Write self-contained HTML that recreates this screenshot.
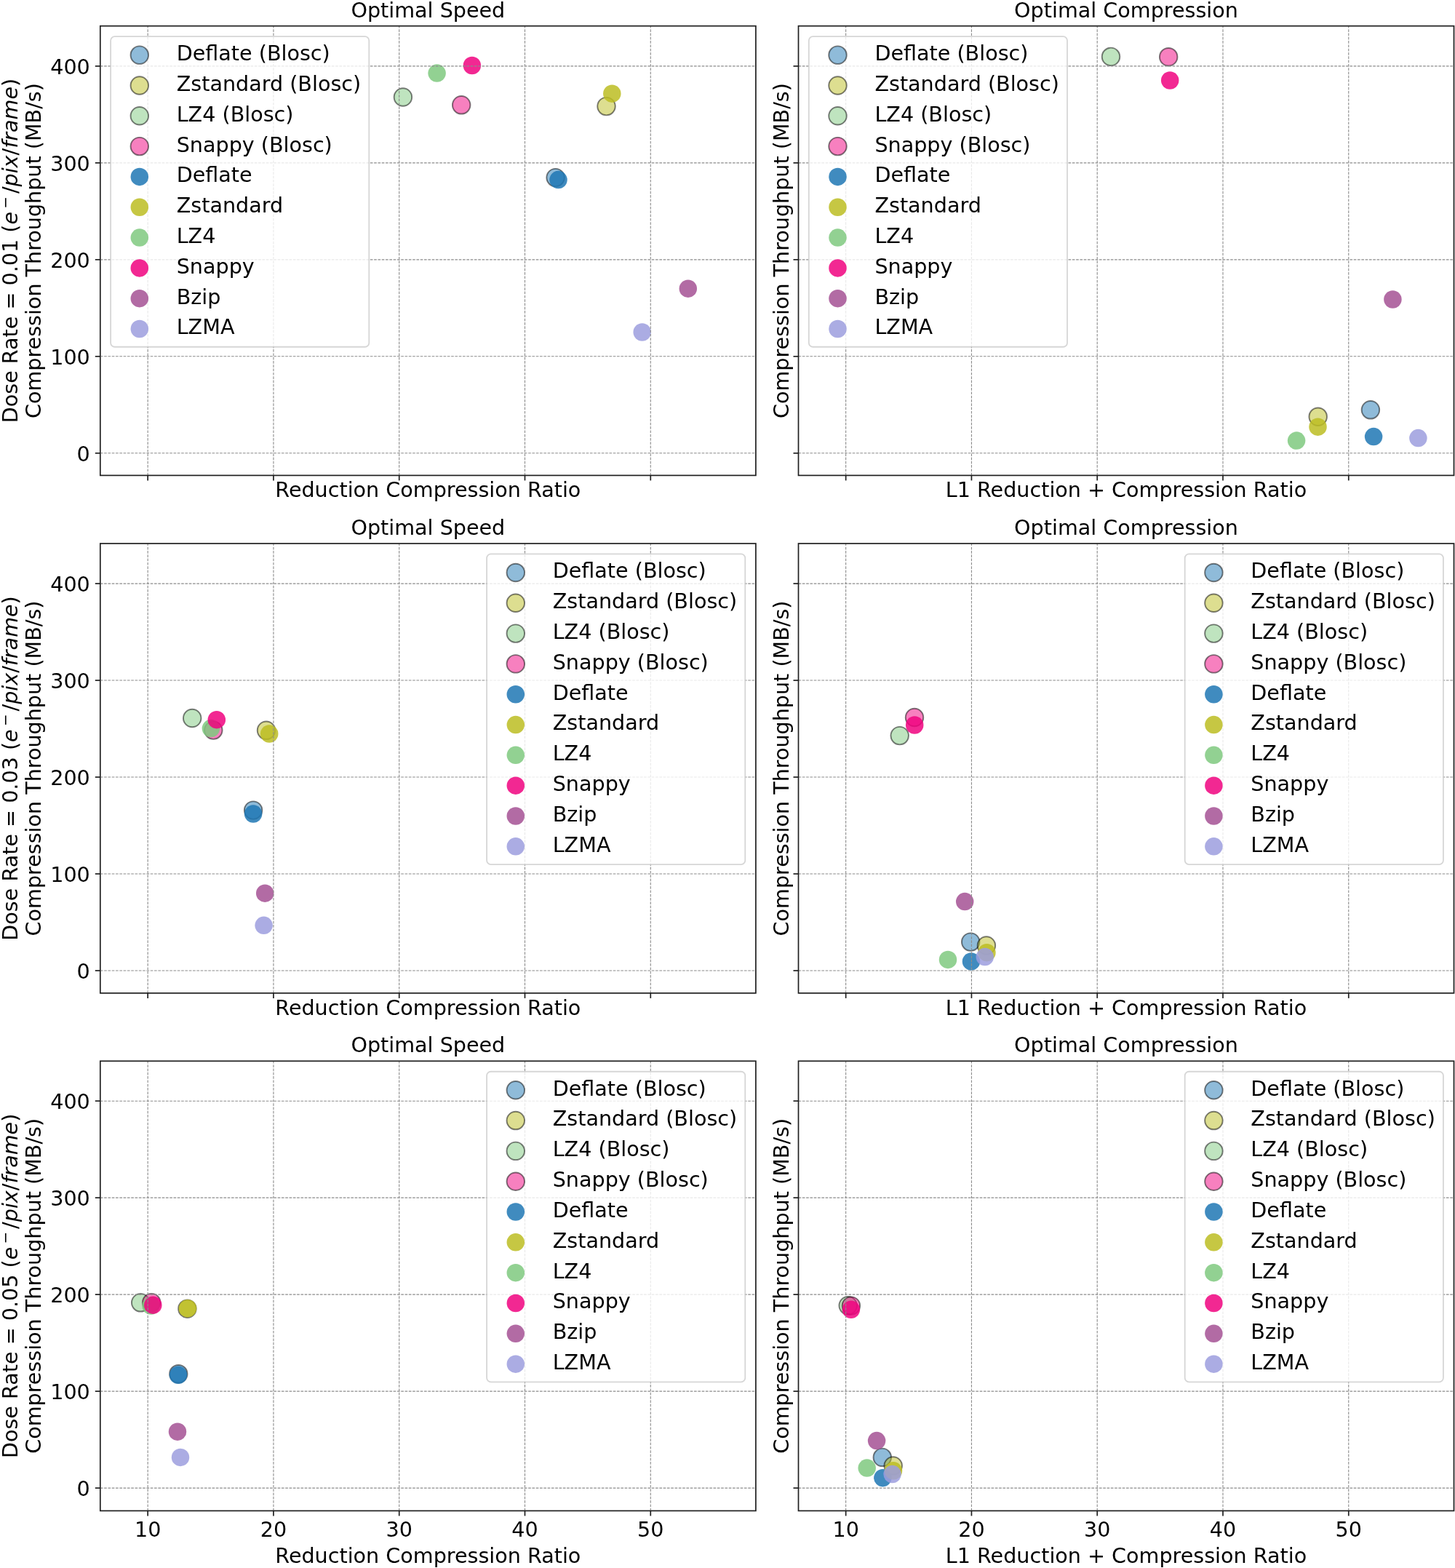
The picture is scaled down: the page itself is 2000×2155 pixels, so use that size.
<!DOCTYPE html>
<html lang="en"><head><meta charset="utf-8"><title>Compression throughput vs. compression ratio</title>
<style>
html,body{margin:0;padding:0;background:#fff;}
body{width:2000px;height:2155px;overflow:hidden;}
svg{display:block;}
text{font-family:"DejaVu Sans","Liberation Sans",sans-serif;font-size:28.6px;fill:#000;letter-spacing:0px;}
.it{font-style:italic;}
.g{stroke:#8c8c8c;stroke-width:1.1;stroke-dasharray:3.7 1.6;fill:none;}
.t{stroke:#202020;stroke-width:1.7;fill:none;}
.sp{stroke:#202020;stroke-width:1.7;fill:none;stroke-linejoin:miter;}
.b{stroke:#000;stroke-opacity:0.5;stroke-width:1.9;fill-opacity:0.5;}
.p{fill-opacity:0.85;}
.lf{fill:#fff;fill-opacity:0.8;stroke:#ccc;stroke-opacity:0.8;stroke-width:1.8;}
</style></head><body>
<svg role="img" aria-label="Compression throughput versus compression ratio scatter plots" width="2000" height="2155" viewBox="0 0 2000 2155">
<rect x="0" y="0" width="2000" height="2155" fill="#fff"/>
<g>
<circle class="b" cx="763.6" cy="244.1" r="12.25" fill="#1f77b4"/>
<circle class="b" cx="833.5" cy="146.1" r="12.25" fill="#bcbd22"/>
<circle class="b" cx="553.9" cy="133.5" r="12.25" fill="#7fc97f"/>
<circle class="b" cx="634.2" cy="144.3" r="12.25" fill="#f0027f"/>
<circle class="p" cx="767.5" cy="247.1" r="12.25" fill="#1f77b4"/>
<circle class="p" cx="841.3" cy="128.7" r="12.25" fill="#bcbd22"/>
<circle class="p" cx="600.6" cy="100.6" r="12.25" fill="#7fc97f"/>
<circle class="p" cx="648.9" cy="90" r="12.25" fill="#f0027f"/>
<circle class="p" cx="945.8" cy="396.7" r="12.25" fill="#a55194"/>
<circle class="p" cx="882.7" cy="456.5" r="12.25" fill="#9c9ede"/>
<line class="g" x1="203.15" y1="653.4" x2="203.15" y2="35.7"/>
<line class="g" x1="375.93" y1="653.4" x2="375.93" y2="35.7"/>
<line class="g" x1="548.71" y1="653.4" x2="548.71" y2="35.7"/>
<line class="g" x1="721.49" y1="653.4" x2="721.49" y2="35.7"/>
<line class="g" x1="894.27" y1="653.4" x2="894.27" y2="35.7"/>
<line class="g" x1="137.8" y1="622.8" x2="1038.9" y2="622.8"/>
<line class="g" x1="137.8" y1="489.82" x2="1038.9" y2="489.82"/>
<line class="g" x1="137.8" y1="356.84" x2="1038.9" y2="356.84"/>
<line class="g" x1="137.8" y1="223.86" x2="1038.9" y2="223.86"/>
<line class="g" x1="137.8" y1="90.88" x2="1038.9" y2="90.88"/>
<line class="t" x1="203.15" y1="653.4" x2="203.15" y2="660.4"/>
<line class="t" x1="375.93" y1="653.4" x2="375.93" y2="660.4"/>
<line class="t" x1="548.71" y1="653.4" x2="548.71" y2="660.4"/>
<line class="t" x1="721.49" y1="653.4" x2="721.49" y2="660.4"/>
<line class="t" x1="894.27" y1="653.4" x2="894.27" y2="660.4"/>
<line class="t" x1="130.8" y1="622.8" x2="137.8" y2="622.8"/>
<line class="t" x1="130.8" y1="489.82" x2="137.8" y2="489.82"/>
<line class="t" x1="130.8" y1="356.84" x2="137.8" y2="356.84"/>
<line class="t" x1="130.8" y1="223.86" x2="137.8" y2="223.86"/>
<line class="t" x1="130.8" y1="90.88" x2="137.8" y2="90.88"/>
<rect class="sp" x="137.8" y="35.7" width="901.1" height="617.7"/>
<text x="123.8" y="633.8" text-anchor="end" >0</text>
<text x="123.8" y="500.82" text-anchor="end" >100</text>
<text x="123.8" y="367.84" text-anchor="end" >200</text>
<text x="123.8" y="234.86" text-anchor="end" >300</text>
<text x="123.8" y="101.88" text-anchor="end" >400</text>
<text x="588.35" y="23.5" text-anchor="middle">Optimal Speed</text>
<text x="588.35" y="683.4" text-anchor="middle">Reduction Compression Ratio</text>
<text transform="translate(23.9 344.55) rotate(-90)" text-anchor="middle">Dose Rate = 0.01 (<tspan class="it">e</tspan><tspan class="it" dx="4.3" dy="-10.2" font-size="20">−</tspan><tspan dx="3.8" dy="10.2">/</tspan><tspan class="it">pix</tspan>/<tspan class="it">frame</tspan>)</text>
<text transform="translate(55.8 344.55) rotate(-90)" text-anchor="middle">Compression Throughput (MB/s)</text>
<rect class="lf" x="152.1" y="50.15" width="355.2" height="426.6" rx="5.6" ry="5.6"/>
<circle class="b" cx="191.8" cy="75.65" r="12.25" fill="#1f77b4"/>
<text x="242.7" y="83.05">Deflate (Blosc)</text>
<circle class="b" cx="191.8" cy="117.47" r="12.25" fill="#bcbd22"/>
<text x="242.7" y="124.87">Zstandard (Blosc)</text>
<circle class="b" cx="191.8" cy="159.29" r="12.25" fill="#7fc97f"/>
<text x="242.7" y="166.69">LZ4 (Blosc)</text>
<circle class="b" cx="191.8" cy="201.11" r="12.25" fill="#f0027f"/>
<text x="242.7" y="208.51">Snappy (Blosc)</text>
<circle class="p" cx="191.8" cy="242.93" r="12.25" fill="#1f77b4"/>
<text x="242.7" y="250.33">Deflate</text>
<circle class="p" cx="191.8" cy="284.75" r="12.25" fill="#bcbd22"/>
<text x="242.7" y="292.15">Zstandard</text>
<circle class="p" cx="191.8" cy="326.57" r="12.25" fill="#7fc97f"/>
<text x="242.7" y="333.97">LZ4</text>
<circle class="p" cx="191.8" cy="368.39" r="12.25" fill="#f0027f"/>
<text x="242.7" y="375.79">Snappy</text>
<circle class="p" cx="191.8" cy="410.21" r="12.25" fill="#a55194"/>
<text x="242.7" y="417.61">Bzip</text>
<circle class="p" cx="191.8" cy="452.03" r="12.25" fill="#9c9ede"/>
<text x="242.7" y="459.43">LZMA</text>
</g>
<g>
<circle class="b" cx="1883.9" cy="563.3" r="12.25" fill="#1f77b4"/>
<circle class="b" cx="1811.7" cy="572.7" r="12.25" fill="#bcbd22"/>
<circle class="b" cx="1527" cy="77.9" r="12.25" fill="#7fc97f"/>
<circle class="b" cx="1606.2" cy="78.2" r="12.25" fill="#f0027f"/>
<circle class="p" cx="1888.1" cy="600.1" r="12.25" fill="#1f77b4"/>
<circle class="p" cx="1811.5" cy="586.7" r="12.25" fill="#bcbd22"/>
<circle class="p" cx="1782.1" cy="605.6" r="12.25" fill="#7fc97f"/>
<circle class="p" cx="1608.2" cy="110.5" r="12.25" fill="#f0027f"/>
<circle class="p" cx="1914.4" cy="411.5" r="12.25" fill="#a55194"/>
<circle class="p" cx="1949.4" cy="602.1" r="12.25" fill="#9c9ede"/>
<line class="g" x1="1162.65" y1="653.4" x2="1162.65" y2="35.7"/>
<line class="g" x1="1335.43" y1="653.4" x2="1335.43" y2="35.7"/>
<line class="g" x1="1508.21" y1="653.4" x2="1508.21" y2="35.7"/>
<line class="g" x1="1680.99" y1="653.4" x2="1680.99" y2="35.7"/>
<line class="g" x1="1853.77" y1="653.4" x2="1853.77" y2="35.7"/>
<line class="g" x1="1097.5" y1="622.8" x2="1998.5" y2="622.8"/>
<line class="g" x1="1097.5" y1="489.82" x2="1998.5" y2="489.82"/>
<line class="g" x1="1097.5" y1="356.84" x2="1998.5" y2="356.84"/>
<line class="g" x1="1097.5" y1="223.86" x2="1998.5" y2="223.86"/>
<line class="g" x1="1097.5" y1="90.88" x2="1998.5" y2="90.88"/>
<line class="t" x1="1162.65" y1="653.4" x2="1162.65" y2="660.4"/>
<line class="t" x1="1335.43" y1="653.4" x2="1335.43" y2="660.4"/>
<line class="t" x1="1508.21" y1="653.4" x2="1508.21" y2="660.4"/>
<line class="t" x1="1680.99" y1="653.4" x2="1680.99" y2="660.4"/>
<line class="t" x1="1853.77" y1="653.4" x2="1853.77" y2="660.4"/>
<line class="t" x1="1090.5" y1="622.8" x2="1097.5" y2="622.8"/>
<line class="t" x1="1090.5" y1="489.82" x2="1097.5" y2="489.82"/>
<line class="t" x1="1090.5" y1="356.84" x2="1097.5" y2="356.84"/>
<line class="t" x1="1090.5" y1="223.86" x2="1097.5" y2="223.86"/>
<line class="t" x1="1090.5" y1="90.88" x2="1097.5" y2="90.88"/>
<rect class="sp" x="1097.5" y="35.7" width="901" height="617.7"/>
<text x="1548" y="23.5" text-anchor="middle">Optimal Compression</text>
<text x="1548" y="683.4" text-anchor="middle">L1 Reduction + Compression Ratio</text>
<text transform="translate(1083.8 344.55) rotate(-90)" text-anchor="middle">Compression Throughput (MB/s)</text>
<rect class="lf" x="1111.8" y="50.15" width="355.2" height="426.6" rx="5.6" ry="5.6"/>
<circle class="b" cx="1151.5" cy="75.65" r="12.25" fill="#1f77b4"/>
<text x="1202.4" y="83.05">Deflate (Blosc)</text>
<circle class="b" cx="1151.5" cy="117.47" r="12.25" fill="#bcbd22"/>
<text x="1202.4" y="124.87">Zstandard (Blosc)</text>
<circle class="b" cx="1151.5" cy="159.29" r="12.25" fill="#7fc97f"/>
<text x="1202.4" y="166.69">LZ4 (Blosc)</text>
<circle class="b" cx="1151.5" cy="201.11" r="12.25" fill="#f0027f"/>
<text x="1202.4" y="208.51">Snappy (Blosc)</text>
<circle class="p" cx="1151.5" cy="242.93" r="12.25" fill="#1f77b4"/>
<text x="1202.4" y="250.33">Deflate</text>
<circle class="p" cx="1151.5" cy="284.75" r="12.25" fill="#bcbd22"/>
<text x="1202.4" y="292.15">Zstandard</text>
<circle class="p" cx="1151.5" cy="326.57" r="12.25" fill="#7fc97f"/>
<text x="1202.4" y="333.97">LZ4</text>
<circle class="p" cx="1151.5" cy="368.39" r="12.25" fill="#f0027f"/>
<text x="1202.4" y="375.79">Snappy</text>
<circle class="p" cx="1151.5" cy="410.21" r="12.25" fill="#a55194"/>
<text x="1202.4" y="417.61">Bzip</text>
<circle class="p" cx="1151.5" cy="452.03" r="12.25" fill="#9c9ede"/>
<text x="1202.4" y="459.43">LZMA</text>
</g>
<g>
<circle class="b" cx="348.1" cy="1113.6" r="12.25" fill="#1f77b4"/>
<circle class="b" cx="366" cy="1003.8" r="12.25" fill="#bcbd22"/>
<circle class="b" cx="264.2" cy="987" r="12.25" fill="#7fc97f"/>
<circle class="b" cx="293.3" cy="1003.6" r="12.25" fill="#f0027f"/>
<circle class="p" cx="348.1" cy="1118.5" r="12.25" fill="#1f77b4"/>
<circle class="p" cx="370.2" cy="1008.5" r="12.25" fill="#bcbd22"/>
<circle class="p" cx="289.9" cy="1001.1" r="12.25" fill="#7fc97f"/>
<circle class="p" cx="297.8" cy="989.2" r="12.25" fill="#f0027f"/>
<circle class="p" cx="364.2" cy="1227.7" r="12.25" fill="#a55194"/>
<circle class="p" cx="362.6" cy="1271.8" r="12.25" fill="#9c9ede"/>
<line class="g" x1="203.15" y1="1364.9" x2="203.15" y2="747"/>
<line class="g" x1="375.93" y1="1364.9" x2="375.93" y2="747"/>
<line class="g" x1="548.71" y1="1364.9" x2="548.71" y2="747"/>
<line class="g" x1="721.49" y1="1364.9" x2="721.49" y2="747"/>
<line class="g" x1="894.27" y1="1364.9" x2="894.27" y2="747"/>
<line class="g" x1="137.8" y1="1334" x2="1038.9" y2="1334"/>
<line class="g" x1="137.8" y1="1201.02" x2="1038.9" y2="1201.02"/>
<line class="g" x1="137.8" y1="1068.04" x2="1038.9" y2="1068.04"/>
<line class="g" x1="137.8" y1="935.06" x2="1038.9" y2="935.06"/>
<line class="g" x1="137.8" y1="802.08" x2="1038.9" y2="802.08"/>
<line class="t" x1="203.15" y1="1364.9" x2="203.15" y2="1371.9"/>
<line class="t" x1="375.93" y1="1364.9" x2="375.93" y2="1371.9"/>
<line class="t" x1="548.71" y1="1364.9" x2="548.71" y2="1371.9"/>
<line class="t" x1="721.49" y1="1364.9" x2="721.49" y2="1371.9"/>
<line class="t" x1="894.27" y1="1364.9" x2="894.27" y2="1371.9"/>
<line class="t" x1="130.8" y1="1334" x2="137.8" y2="1334"/>
<line class="t" x1="130.8" y1="1201.02" x2="137.8" y2="1201.02"/>
<line class="t" x1="130.8" y1="1068.04" x2="137.8" y2="1068.04"/>
<line class="t" x1="130.8" y1="935.06" x2="137.8" y2="935.06"/>
<line class="t" x1="130.8" y1="802.08" x2="137.8" y2="802.08"/>
<rect class="sp" x="137.8" y="747" width="901.1" height="617.9"/>
<text x="123.8" y="1345" text-anchor="end" >0</text>
<text x="123.8" y="1212.02" text-anchor="end" >100</text>
<text x="123.8" y="1079.04" text-anchor="end" >200</text>
<text x="123.8" y="946.06" text-anchor="end" >300</text>
<text x="123.8" y="813.08" text-anchor="end" >400</text>
<text x="588.35" y="734.8" text-anchor="middle">Optimal Speed</text>
<text x="588.35" y="1394.9" text-anchor="middle">Reduction Compression Ratio</text>
<text transform="translate(23.9 1055.95) rotate(-90)" text-anchor="middle">Dose Rate = 0.03 (<tspan class="it">e</tspan><tspan class="it" dx="4.3" dy="-10.2" font-size="20">−</tspan><tspan dx="3.8" dy="10.2">/</tspan><tspan class="it">pix</tspan>/<tspan class="it">frame</tspan>)</text>
<text transform="translate(55.8 1055.95) rotate(-90)" text-anchor="middle">Compression Throughput (MB/s)</text>
<rect class="lf" x="669.1" y="761.45" width="355.2" height="426.6" rx="5.6" ry="5.6"/>
<circle class="b" cx="708.8" cy="786.95" r="12.25" fill="#1f77b4"/>
<text x="759.7" y="794.35">Deflate (Blosc)</text>
<circle class="b" cx="708.8" cy="828.77" r="12.25" fill="#bcbd22"/>
<text x="759.7" y="836.17">Zstandard (Blosc)</text>
<circle class="b" cx="708.8" cy="870.59" r="12.25" fill="#7fc97f"/>
<text x="759.7" y="877.99">LZ4 (Blosc)</text>
<circle class="b" cx="708.8" cy="912.41" r="12.25" fill="#f0027f"/>
<text x="759.7" y="919.81">Snappy (Blosc)</text>
<circle class="p" cx="708.8" cy="954.23" r="12.25" fill="#1f77b4"/>
<text x="759.7" y="961.63">Deflate</text>
<circle class="p" cx="708.8" cy="996.05" r="12.25" fill="#bcbd22"/>
<text x="759.7" y="1003.45">Zstandard</text>
<circle class="p" cx="708.8" cy="1037.87" r="12.25" fill="#7fc97f"/>
<text x="759.7" y="1045.27">LZ4</text>
<circle class="p" cx="708.8" cy="1079.69" r="12.25" fill="#f0027f"/>
<text x="759.7" y="1087.09">Snappy</text>
<circle class="p" cx="708.8" cy="1121.51" r="12.25" fill="#a55194"/>
<text x="759.7" y="1128.91">Bzip</text>
<circle class="p" cx="708.8" cy="1163.33" r="12.25" fill="#9c9ede"/>
<text x="759.7" y="1170.73">LZMA</text>
</g>
<g>
<circle class="b" cx="1334.2" cy="1294.6" r="12.25" fill="#1f77b4"/>
<circle class="b" cx="1355.9" cy="1299.5" r="12.25" fill="#bcbd22"/>
<circle class="b" cx="1236.7" cy="1011.1" r="12.25" fill="#7fc97f"/>
<circle class="b" cx="1257" cy="986" r="12.25" fill="#f0027f"/>
<circle class="p" cx="1335" cy="1321.4" r="12.25" fill="#1f77b4"/>
<circle class="p" cx="1356.4" cy="1309.2" r="12.25" fill="#bcbd22"/>
<circle class="p" cx="1303" cy="1318.9" r="12.25" fill="#7fc97f"/>
<circle class="p" cx="1257.2" cy="996.5" r="12.25" fill="#f0027f"/>
<circle class="p" cx="1326.2" cy="1239.1" r="12.25" fill="#a55194"/>
<circle class="p" cx="1353.8" cy="1315.1" r="12.25" fill="#9c9ede"/>
<line class="g" x1="1162.65" y1="1364.9" x2="1162.65" y2="747"/>
<line class="g" x1="1335.43" y1="1364.9" x2="1335.43" y2="747"/>
<line class="g" x1="1508.21" y1="1364.9" x2="1508.21" y2="747"/>
<line class="g" x1="1680.99" y1="1364.9" x2="1680.99" y2="747"/>
<line class="g" x1="1853.77" y1="1364.9" x2="1853.77" y2="747"/>
<line class="g" x1="1097.5" y1="1334" x2="1998.5" y2="1334"/>
<line class="g" x1="1097.5" y1="1201.02" x2="1998.5" y2="1201.02"/>
<line class="g" x1="1097.5" y1="1068.04" x2="1998.5" y2="1068.04"/>
<line class="g" x1="1097.5" y1="935.06" x2="1998.5" y2="935.06"/>
<line class="g" x1="1097.5" y1="802.08" x2="1998.5" y2="802.08"/>
<line class="t" x1="1162.65" y1="1364.9" x2="1162.65" y2="1371.9"/>
<line class="t" x1="1335.43" y1="1364.9" x2="1335.43" y2="1371.9"/>
<line class="t" x1="1508.21" y1="1364.9" x2="1508.21" y2="1371.9"/>
<line class="t" x1="1680.99" y1="1364.9" x2="1680.99" y2="1371.9"/>
<line class="t" x1="1853.77" y1="1364.9" x2="1853.77" y2="1371.9"/>
<line class="t" x1="1090.5" y1="1334" x2="1097.5" y2="1334"/>
<line class="t" x1="1090.5" y1="1201.02" x2="1097.5" y2="1201.02"/>
<line class="t" x1="1090.5" y1="1068.04" x2="1097.5" y2="1068.04"/>
<line class="t" x1="1090.5" y1="935.06" x2="1097.5" y2="935.06"/>
<line class="t" x1="1090.5" y1="802.08" x2="1097.5" y2="802.08"/>
<rect class="sp" x="1097.5" y="747" width="901" height="617.9"/>
<text x="1548" y="734.8" text-anchor="middle">Optimal Compression</text>
<text x="1548" y="1394.9" text-anchor="middle">L1 Reduction + Compression Ratio</text>
<text transform="translate(1083.8 1055.95) rotate(-90)" text-anchor="middle">Compression Throughput (MB/s)</text>
<rect class="lf" x="1628.7" y="761.45" width="355.2" height="426.6" rx="5.6" ry="5.6"/>
<circle class="b" cx="1668.4" cy="786.95" r="12.25" fill="#1f77b4"/>
<text x="1719.3" y="794.35">Deflate (Blosc)</text>
<circle class="b" cx="1668.4" cy="828.77" r="12.25" fill="#bcbd22"/>
<text x="1719.3" y="836.17">Zstandard (Blosc)</text>
<circle class="b" cx="1668.4" cy="870.59" r="12.25" fill="#7fc97f"/>
<text x="1719.3" y="877.99">LZ4 (Blosc)</text>
<circle class="b" cx="1668.4" cy="912.41" r="12.25" fill="#f0027f"/>
<text x="1719.3" y="919.81">Snappy (Blosc)</text>
<circle class="p" cx="1668.4" cy="954.23" r="12.25" fill="#1f77b4"/>
<text x="1719.3" y="961.63">Deflate</text>
<circle class="p" cx="1668.4" cy="996.05" r="12.25" fill="#bcbd22"/>
<text x="1719.3" y="1003.45">Zstandard</text>
<circle class="p" cx="1668.4" cy="1037.87" r="12.25" fill="#7fc97f"/>
<text x="1719.3" y="1045.27">LZ4</text>
<circle class="p" cx="1668.4" cy="1079.69" r="12.25" fill="#f0027f"/>
<text x="1719.3" y="1087.09">Snappy</text>
<circle class="p" cx="1668.4" cy="1121.51" r="12.25" fill="#a55194"/>
<text x="1719.3" y="1128.91">Bzip</text>
<circle class="p" cx="1668.4" cy="1163.33" r="12.25" fill="#9c9ede"/>
<text x="1719.3" y="1170.73">LZMA</text>
</g>
<g>
<circle class="b" cx="245.3" cy="1888.2" r="12.25" fill="#1f77b4"/>
<circle class="b" cx="257.4" cy="1798.7" r="12.25" fill="#bcbd22"/>
<circle class="b" cx="193.2" cy="1790.3" r="12.25" fill="#7fc97f"/>
<circle class="b" cx="208.2" cy="1790.1" r="12.25" fill="#f0027f"/>
<circle class="p" cx="245" cy="1889.8" r="12.25" fill="#1f77b4"/>
<circle class="p" cx="258" cy="1798.2" r="12.25" fill="#bcbd22"/>
<circle class="p" cx="207.5" cy="1794.6" r="12.25" fill="#7fc97f"/>
<circle class="p" cx="210.3" cy="1793.7" r="12.25" fill="#f0027f"/>
<circle class="p" cx="244" cy="1967.7" r="12.25" fill="#a55194"/>
<circle class="p" cx="248" cy="2002.9" r="12.25" fill="#9c9ede"/>
<line class="g" x1="203.15" y1="2076.4" x2="203.15" y2="1458.3"/>
<line class="g" x1="375.93" y1="2076.4" x2="375.93" y2="1458.3"/>
<line class="g" x1="548.71" y1="2076.4" x2="548.71" y2="1458.3"/>
<line class="g" x1="721.49" y1="2076.4" x2="721.49" y2="1458.3"/>
<line class="g" x1="894.27" y1="2076.4" x2="894.27" y2="1458.3"/>
<line class="g" x1="137.8" y1="2045.1" x2="1038.9" y2="2045.1"/>
<line class="g" x1="137.8" y1="1912.12" x2="1038.9" y2="1912.12"/>
<line class="g" x1="137.8" y1="1779.14" x2="1038.9" y2="1779.14"/>
<line class="g" x1="137.8" y1="1646.16" x2="1038.9" y2="1646.16"/>
<line class="g" x1="137.8" y1="1513.18" x2="1038.9" y2="1513.18"/>
<line class="t" x1="203.15" y1="2076.4" x2="203.15" y2="2083.4"/>
<line class="t" x1="375.93" y1="2076.4" x2="375.93" y2="2083.4"/>
<line class="t" x1="548.71" y1="2076.4" x2="548.71" y2="2083.4"/>
<line class="t" x1="721.49" y1="2076.4" x2="721.49" y2="2083.4"/>
<line class="t" x1="894.27" y1="2076.4" x2="894.27" y2="2083.4"/>
<line class="t" x1="130.8" y1="2045.1" x2="137.8" y2="2045.1"/>
<line class="t" x1="130.8" y1="1912.12" x2="137.8" y2="1912.12"/>
<line class="t" x1="130.8" y1="1779.14" x2="137.8" y2="1779.14"/>
<line class="t" x1="130.8" y1="1646.16" x2="137.8" y2="1646.16"/>
<line class="t" x1="130.8" y1="1513.18" x2="137.8" y2="1513.18"/>
<rect class="sp" x="137.8" y="1458.3" width="901.1" height="618.1"/>
<text x="203.15" y="2112.3" text-anchor="middle">10</text>
<text x="375.93" y="2112.3" text-anchor="middle">20</text>
<text x="548.71" y="2112.3" text-anchor="middle">30</text>
<text x="721.49" y="2112.3" text-anchor="middle">40</text>
<text x="894.27" y="2112.3" text-anchor="middle">50</text>
<text x="123.8" y="2056.1" text-anchor="end" >0</text>
<text x="123.8" y="1923.12" text-anchor="end" >100</text>
<text x="123.8" y="1790.14" text-anchor="end" >200</text>
<text x="123.8" y="1657.16" text-anchor="end" >300</text>
<text x="123.8" y="1524.18" text-anchor="end" >400</text>
<text x="588.35" y="1446.1" text-anchor="middle">Optimal Speed</text>
<text x="588.35" y="2148" text-anchor="middle">Reduction Compression Ratio</text>
<text transform="translate(23.9 1767.35) rotate(-90)" text-anchor="middle">Dose Rate = 0.05 (<tspan class="it">e</tspan><tspan class="it" dx="4.3" dy="-10.2" font-size="20">−</tspan><tspan dx="3.8" dy="10.2">/</tspan><tspan class="it">pix</tspan>/<tspan class="it">frame</tspan>)</text>
<text transform="translate(55.8 1767.35) rotate(-90)" text-anchor="middle">Compression Throughput (MB/s)</text>
<rect class="lf" x="669.1" y="1472.75" width="355.2" height="426.6" rx="5.6" ry="5.6"/>
<circle class="b" cx="708.8" cy="1498.25" r="12.25" fill="#1f77b4"/>
<text x="759.7" y="1505.65">Deflate (Blosc)</text>
<circle class="b" cx="708.8" cy="1540.07" r="12.25" fill="#bcbd22"/>
<text x="759.7" y="1547.47">Zstandard (Blosc)</text>
<circle class="b" cx="708.8" cy="1581.89" r="12.25" fill="#7fc97f"/>
<text x="759.7" y="1589.29">LZ4 (Blosc)</text>
<circle class="b" cx="708.8" cy="1623.71" r="12.25" fill="#f0027f"/>
<text x="759.7" y="1631.11">Snappy (Blosc)</text>
<circle class="p" cx="708.8" cy="1665.53" r="12.25" fill="#1f77b4"/>
<text x="759.7" y="1672.93">Deflate</text>
<circle class="p" cx="708.8" cy="1707.35" r="12.25" fill="#bcbd22"/>
<text x="759.7" y="1714.75">Zstandard</text>
<circle class="p" cx="708.8" cy="1749.17" r="12.25" fill="#7fc97f"/>
<text x="759.7" y="1756.57">LZ4</text>
<circle class="p" cx="708.8" cy="1790.99" r="12.25" fill="#f0027f"/>
<text x="759.7" y="1798.39">Snappy</text>
<circle class="p" cx="708.8" cy="1832.81" r="12.25" fill="#a55194"/>
<text x="759.7" y="1840.21">Bzip</text>
<circle class="p" cx="708.8" cy="1874.63" r="12.25" fill="#9c9ede"/>
<text x="759.7" y="1882.03">LZMA</text>
</g>
<g>
<circle class="b" cx="1212.8" cy="2002.9" r="12.25" fill="#1f77b4"/>
<circle class="b" cx="1227.7" cy="2014.5" r="12.25" fill="#bcbd22"/>
<circle class="b" cx="1165.7" cy="1794.3" r="12.25" fill="#7fc97f"/>
<circle class="b" cx="1169.9" cy="1794.6" r="12.25" fill="#f0027f"/>
<circle class="p" cx="1213.4" cy="2031.2" r="12.25" fill="#1f77b4"/>
<circle class="p" cx="1228" cy="2021.3" r="12.25" fill="#bcbd22"/>
<circle class="p" cx="1191.7" cy="2017.6" r="12.25" fill="#7fc97f"/>
<circle class="p" cx="1169.9" cy="1799.8" r="12.25" fill="#f0027f"/>
<circle class="p" cx="1205.1" cy="1980.1" r="12.25" fill="#a55194"/>
<circle class="p" cx="1226.6" cy="2026.1" r="12.25" fill="#9c9ede"/>
<line class="g" x1="1162.65" y1="2076.4" x2="1162.65" y2="1458.3"/>
<line class="g" x1="1335.43" y1="2076.4" x2="1335.43" y2="1458.3"/>
<line class="g" x1="1508.21" y1="2076.4" x2="1508.21" y2="1458.3"/>
<line class="g" x1="1680.99" y1="2076.4" x2="1680.99" y2="1458.3"/>
<line class="g" x1="1853.77" y1="2076.4" x2="1853.77" y2="1458.3"/>
<line class="g" x1="1097.5" y1="2045.1" x2="1998.5" y2="2045.1"/>
<line class="g" x1="1097.5" y1="1912.12" x2="1998.5" y2="1912.12"/>
<line class="g" x1="1097.5" y1="1779.14" x2="1998.5" y2="1779.14"/>
<line class="g" x1="1097.5" y1="1646.16" x2="1998.5" y2="1646.16"/>
<line class="g" x1="1097.5" y1="1513.18" x2="1998.5" y2="1513.18"/>
<line class="t" x1="1162.65" y1="2076.4" x2="1162.65" y2="2083.4"/>
<line class="t" x1="1335.43" y1="2076.4" x2="1335.43" y2="2083.4"/>
<line class="t" x1="1508.21" y1="2076.4" x2="1508.21" y2="2083.4"/>
<line class="t" x1="1680.99" y1="2076.4" x2="1680.99" y2="2083.4"/>
<line class="t" x1="1853.77" y1="2076.4" x2="1853.77" y2="2083.4"/>
<line class="t" x1="1090.5" y1="2045.1" x2="1097.5" y2="2045.1"/>
<line class="t" x1="1090.5" y1="1912.12" x2="1097.5" y2="1912.12"/>
<line class="t" x1="1090.5" y1="1779.14" x2="1097.5" y2="1779.14"/>
<line class="t" x1="1090.5" y1="1646.16" x2="1097.5" y2="1646.16"/>
<line class="t" x1="1090.5" y1="1513.18" x2="1097.5" y2="1513.18"/>
<rect class="sp" x="1097.5" y="1458.3" width="901" height="618.1"/>
<text x="1162.65" y="2112.3" text-anchor="middle">10</text>
<text x="1335.43" y="2112.3" text-anchor="middle">20</text>
<text x="1508.21" y="2112.3" text-anchor="middle">30</text>
<text x="1680.99" y="2112.3" text-anchor="middle">40</text>
<text x="1853.77" y="2112.3" text-anchor="middle">50</text>
<text x="1548" y="1446.1" text-anchor="middle">Optimal Compression</text>
<text x="1548" y="2148" text-anchor="middle">L1 Reduction + Compression Ratio</text>
<text transform="translate(1083.8 1767.35) rotate(-90)" text-anchor="middle">Compression Throughput (MB/s)</text>
<rect class="lf" x="1628.7" y="1472.75" width="355.2" height="426.6" rx="5.6" ry="5.6"/>
<circle class="b" cx="1668.4" cy="1498.25" r="12.25" fill="#1f77b4"/>
<text x="1719.3" y="1505.65">Deflate (Blosc)</text>
<circle class="b" cx="1668.4" cy="1540.07" r="12.25" fill="#bcbd22"/>
<text x="1719.3" y="1547.47">Zstandard (Blosc)</text>
<circle class="b" cx="1668.4" cy="1581.89" r="12.25" fill="#7fc97f"/>
<text x="1719.3" y="1589.29">LZ4 (Blosc)</text>
<circle class="b" cx="1668.4" cy="1623.71" r="12.25" fill="#f0027f"/>
<text x="1719.3" y="1631.11">Snappy (Blosc)</text>
<circle class="p" cx="1668.4" cy="1665.53" r="12.25" fill="#1f77b4"/>
<text x="1719.3" y="1672.93">Deflate</text>
<circle class="p" cx="1668.4" cy="1707.35" r="12.25" fill="#bcbd22"/>
<text x="1719.3" y="1714.75">Zstandard</text>
<circle class="p" cx="1668.4" cy="1749.17" r="12.25" fill="#7fc97f"/>
<text x="1719.3" y="1756.57">LZ4</text>
<circle class="p" cx="1668.4" cy="1790.99" r="12.25" fill="#f0027f"/>
<text x="1719.3" y="1798.39">Snappy</text>
<circle class="p" cx="1668.4" cy="1832.81" r="12.25" fill="#a55194"/>
<text x="1719.3" y="1840.21">Bzip</text>
<circle class="p" cx="1668.4" cy="1874.63" r="12.25" fill="#9c9ede"/>
<text x="1719.3" y="1882.03">LZMA</text>
</g>
</svg>
</body></html>
